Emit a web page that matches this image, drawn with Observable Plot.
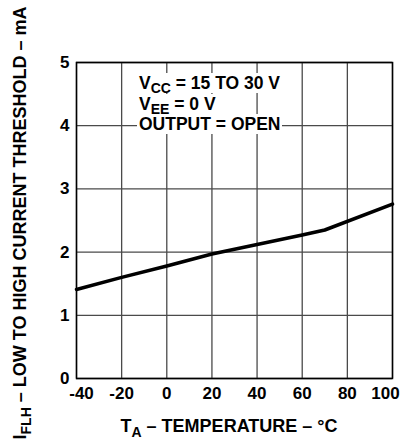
<!DOCTYPE html>
<html><head><meta charset="utf-8">
<script src="https://cdn.jsdelivr.net/npm/d3@7"></script>
<script src="https://cdn.jsdelivr.net/npm/@observablehq/plot@0.6"></script>
<style>
html,body{margin:0;padding:0;background:#fff;overflow:hidden}
#wrap{position:relative;width:412px;height:439px;font-family:'Liberation Sans',Arial,sans-serif;font-weight:bold;color:#000}
#wrap svg{position:absolute;left:0;top:0}
.t{position:absolute;white-space:nowrap}
.t sub{font-size:14px;vertical-align:-4px;line-height:0}
#notes{left:137px;top:73.3px;font-size:17.5px;line-height:20.3px}
#notes span{background:#fff;padding:0 2px}
#xtitle{left:0;width:458px;top:415.5px;text-align:center;font-size:18px;line-height:20px}
#xtitle sub{vertical-align:-5px}
#ytitle{left:-210px;top:213px;width:460px;height:20px;text-align:center;font-size:18px;line-height:20px;transform:rotate(-90deg);transform-origin:50% 50%}
#ytitle sub{vertical-align:-5px}
</style></head><body><div id="wrap"></div>
<script>
// data
const temperature = [-40, -20, 0, 20, 40, 60, 70, 100];
const threshold   = [1.41, 1.60, 1.78, 1.97, 2.12, 2.27, 2.35, 2.76];
const xTicks = [-40, -20, 0, 20, 40, 60, 80, 100];
const yTicks = [0, 1, 2, 3, 4, 5];
const conditions = ["V_{CC} = 15 TO 30 V", "V_{EE} = 0 V", "OUTPUT = OPEN"];
const xTitle = "T_{A} – TEMPERATURE – °C";
const yTitle = "I_{FLH} – LOW TO HIGH CURRENT THRESHOLD – mA";

const curve = temperature.map((t, i) => ({t, v: threshold[i]}));
const fmt = d => String(d);
const xAxis = (ticks, dx) => Plot.axisX({ticks, tickSize: 0, tickPadding: 8, label: null, tickFormat: fmt, dx});

const plot = Plot.plot({
  width: 412, height: 439,
  marginLeft: 76, marginRight: 20, marginTop: 62, marginBottom: 61,
  style: {fontFamily: "'Liberation Sans', Arial, sans-serif", fontWeight: "bold", fontSize: "17px", background: "#fff", color: "#000", overflow: "visible"},
  x: {domain: [-40, 100]},
  y: {domain: [0, 5]},
  marks: [
    Plot.ruleX(xTicks, {x: d => d, y1: 0, y2: 5, stroke: "#4a4a4a", strokeWidth: 1.3}),
    Plot.ruleY(yTicks, {y: d => d, x1: -40, x2: 100, stroke: "#4a4a4a", strokeWidth: 1.3}),
    Plot.line(curve, {x: "t", y: "v", stroke: "#000", strokeWidth: 3.6}),
    Plot.frame({stroke: "#000", strokeWidth: 1.5}),
    xAxis(xTicks.slice(1, -1), 0),
    xAxis(xTicks.slice(0, 1), 5),
    xAxis(xTicks.slice(-1), -7),
    Plot.axisY({ticks: yTicks, tickSize: 0, tickPadding: 7, label: null, tickFormat: fmt})
  ]
});
const wrap = document.getElementById("wrap");
wrap.append(plot);

const esc = s => s.replace(/&/g, "&amp;").replace(/</g, "&lt;");
const rich = s => esc(s).replace(/_\{([^}]*)\}/g, "<sub>$1</sub>");

const notes = document.createElement("div");
notes.className = "t"; notes.id = "notes";
notes.innerHTML = conditions.map(c => `<div><span>${rich(c)}</span></div>`).join("");
wrap.append(notes);

const xt = document.createElement("div");
xt.className = "t"; xt.id = "xtitle"; xt.innerHTML = rich(xTitle);
wrap.append(xt);

const yt = document.createElement("div");
yt.className = "t"; yt.id = "ytitle"; yt.innerHTML = rich(yTitle);
wrap.append(yt);
</script>
</body></html>
